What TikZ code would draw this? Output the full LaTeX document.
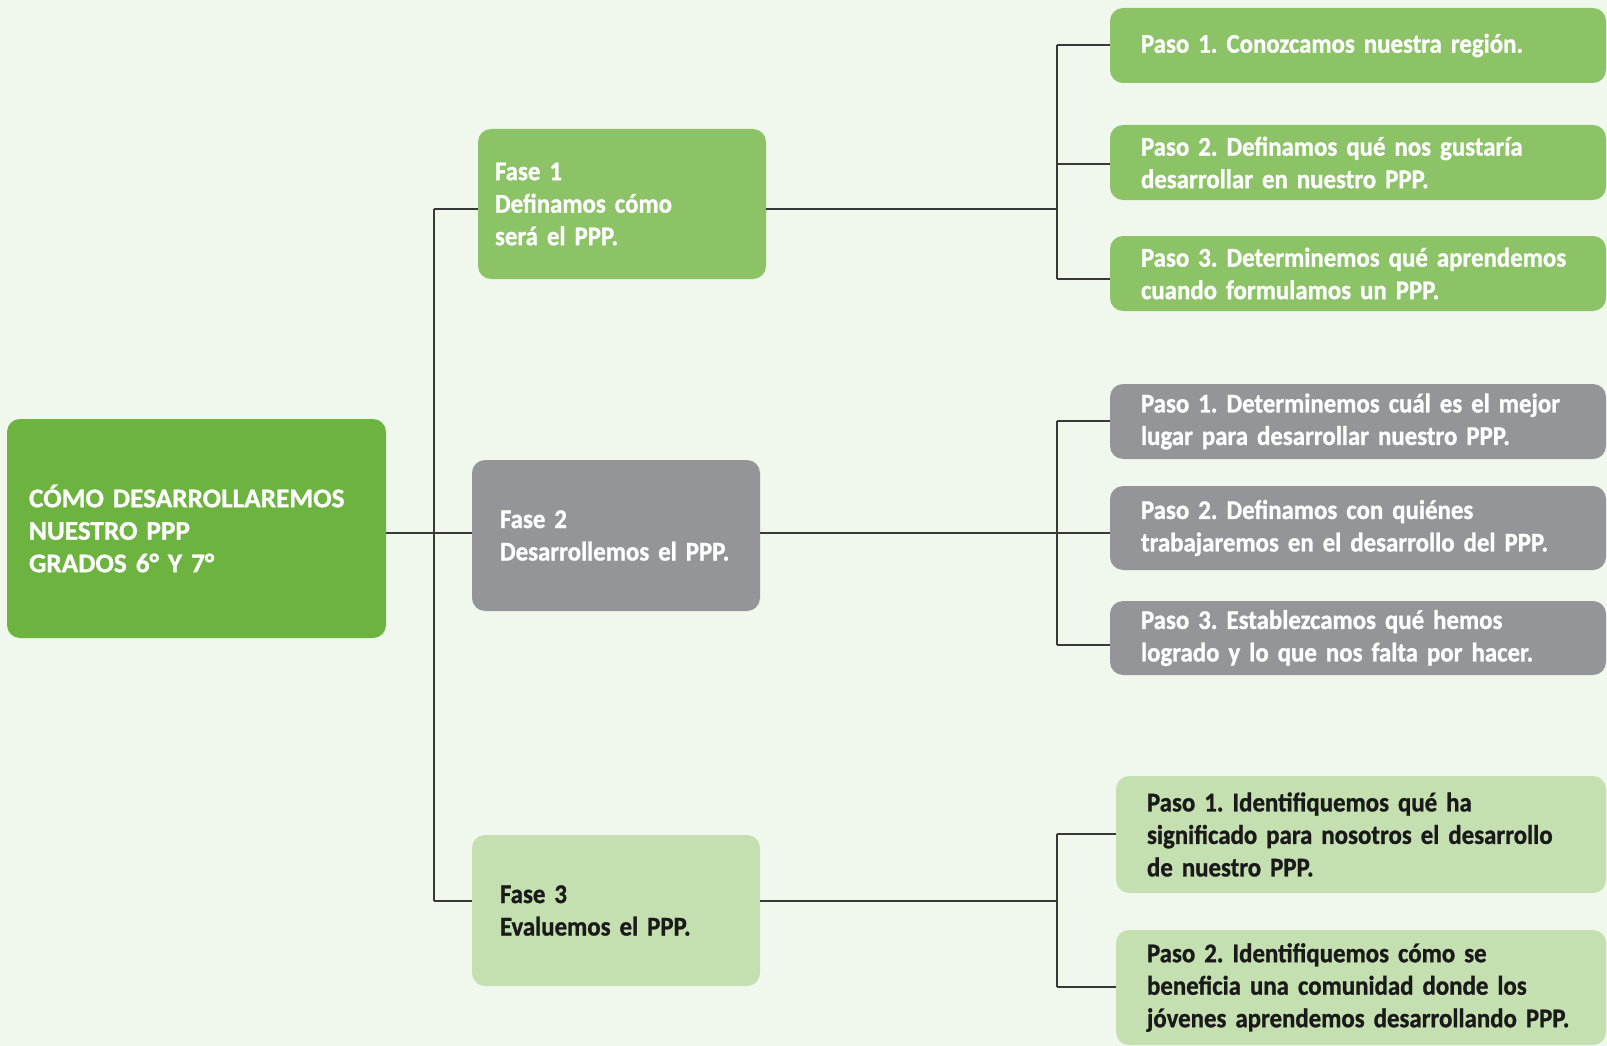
\documentclass[tikz,border=0pt]{standalone}
\usepackage{fontspec}
\setmainfont{Carlito}[FakeStretch=0.92, WordSpace=0.8, FakeBold=1]
\newfontfamily\capsfont{Carlito}[FakeStretch=1.01, WordSpace=0.8, FakeBold=1]
\frenchspacing
\definecolor{bg}{HTML}{F0F7EC}
\definecolor{maingreen}{HTML}{6DB33F}
\definecolor{midgreen}{HTML}{8BC366}
\definecolor{boxgray}{HTML}{949599}
\definecolor{lightgreen}{HTML}{C4E0B0}
\definecolor{linecol}{HTML}{383838}
\definecolor{darktext}{HTML}{1A1A1A}
\newcommand{\oneline}[1]{\mbox{#1}}
\tikzset{
  box/.style={rounded corners=13pt, inner ysep=0pt, align=left,
    font=\bfseries\fontsize{27}{32.5}\selectfont},
  greenbox/.style={box, fill=midgreen, text=white},
  graybox/.style={box, fill=boxgray, text=white},
  lightbox/.style={box, fill=lightgreen, text=darktext},
  stepbox/.style={minimum width=496pt, inner xsep=31pt, text width=434pt},
  stepboxb/.style={minimum width=490pt, inner xsep=31pt, text width=428pt},
  fasebox/.style={minimum width=288pt, minimum height=151pt},
  conn/.style={draw=linecol, line width=1.5pt},
}
\begin{document}
\begin{tikzpicture}[x=1pt,y=-1pt]
\fill[bg] (0,0) rectangle (1607,1046);
\useasboundingbox (0,0) rectangle (1607,1046);

% main
\node[box, font=\capsfont\bfseries\fontsize{27}{32.5}\selectfont, fill=maingreen, text=white,
  minimum width=379pt, minimum height=219pt,
  inner xsep=22pt, text width=335pt] (main) at (196.5,528.5)
  {\oneline{CÓMO DESARROLLAREMOS}\\NUESTRO PPP\\GRADOS 6° Y 7°};

% phases
\node[greenbox, fasebox, minimum height=150pt, inner xsep=17pt, text width=254pt] (f1) at (622,204)
  {Fase 1\\\oneline{Definamos cómo}\\\oneline{será el PPP.}};
\node[graybox, fasebox, inner xsep=28pt, text width=232pt] (f2) at (616,535.5)
  {Fase 2\\\oneline{Desarrollemos el PPP.}};
\node[lightbox, fasebox, inner xsep=28pt, text width=232pt] (f3) at (616,910.5)
  {Fase 3\\\oneline{Evaluemos el PPP.}};

% steps group 1
\node[greenbox, stepbox, minimum height=75pt] (s1a) at (1358,45.5)
  {\oneline{Paso 1. Conozcamos nuestra región.}};
\node[greenbox, stepbox, minimum height=75pt] (s1b) at (1358,162.5)
  {\oneline{Paso 2. Definamos qué nos gustaría}\\\oneline{desarrollar en nuestro PPP.}};
\node[greenbox, stepbox, minimum height=75pt] (s1c) at (1358,273.5)
  {\oneline{Paso 3. Determinemos qué aprendemos}\\\oneline{cuando formulamos un PPP.}};

% steps group 2
\node[graybox, stepbox, minimum height=75pt] (s2a) at (1358,421.5)
  {\oneline{Paso 1. Determinemos cuál es el mejor}\\\oneline{lugar para desarrollar nuestro PPP.}};
\node[graybox, stepbox, minimum height=84pt] (s2b) at (1358,528)
  {\oneline{Paso 2. Definamos con quiénes}\\\oneline{trabajaremos en el desarrollo del PPP.}};
\node[graybox, stepbox, minimum height=74pt] (s2c) at (1358,638)
  {\oneline{Paso 3. Establezcamos qué hemos}\\\oneline{logrado y lo que nos falta por hacer.}};

% steps group 3
\node[lightbox, stepboxb, minimum height=117pt] (s3a) at (1361,834.5)
  {\oneline{Paso 1. Identifiquemos qué ha}\\\oneline{significado para nosotros el desarrollo}\\\oneline{de nuestro PPP.}};
\node[lightbox, stepboxb, minimum height=115pt] (s3b) at (1361,987.5)
  {\oneline{Paso 2. Identifiquemos cómo se}\\\oneline{beneficia una comunidad donde los}\\\oneline{jóvenes aprendemos desarrollando PPP.}};

% junction coordinates
\coordinate (jm) at (434,533);
\coordinate (j1) at (434,209);
\coordinate (j3) at (434,901);
\coordinate (r1) at (1057,209);
\coordinate (k1a) at (1057,45);
\coordinate (k1b) at (1057,164);
\coordinate (k1c) at (1057,279);
\coordinate (r2) at (1057,533);
\coordinate (k2a) at (1057,421);
\coordinate (k2c) at (1057,645);
\coordinate (r3) at (1057,901);
\coordinate (k3a) at (1057,834);
\coordinate (k3b) at (1057,987);

% left connectors
\draw[conn] (main.east |- jm) -- (f2.west |- jm);
\draw[conn] (j1) -- (j3);
\draw[conn] (j1) -- (f1.west |- j1);
\draw[conn] (j3) -- (f3.west |- j3);

% group 1 connectors
\draw[conn] (f1.east |- r1) -- (r1);
\draw[conn] (k1a) -- (k1c);
\draw[conn] (k1a) -- (s1a.west |- k1a);
\draw[conn] (k1b) -- (s1b.west |- k1b);
\draw[conn] (k1c) -- (s1c.west |- k1c);

% group 2 connectors
\draw[conn] (f2.east |- r2) -- (s2b.west |- r2);
\draw[conn] (k2a) -- (k2c);
\draw[conn] (k2a) -- (s2a.west |- k2a);
\draw[conn] (k2c) -- (s2c.west |- k2c);

% group 3 connectors
\draw[conn] (f3.east |- r3) -- (r3);
\draw[conn] (k3a) -- (k3b);
\draw[conn] (k3a) -- (s3a.west |- k3a);
\draw[conn] (k3b) -- (s3b.west |- k3b);
\end{tikzpicture}
\end{document}
